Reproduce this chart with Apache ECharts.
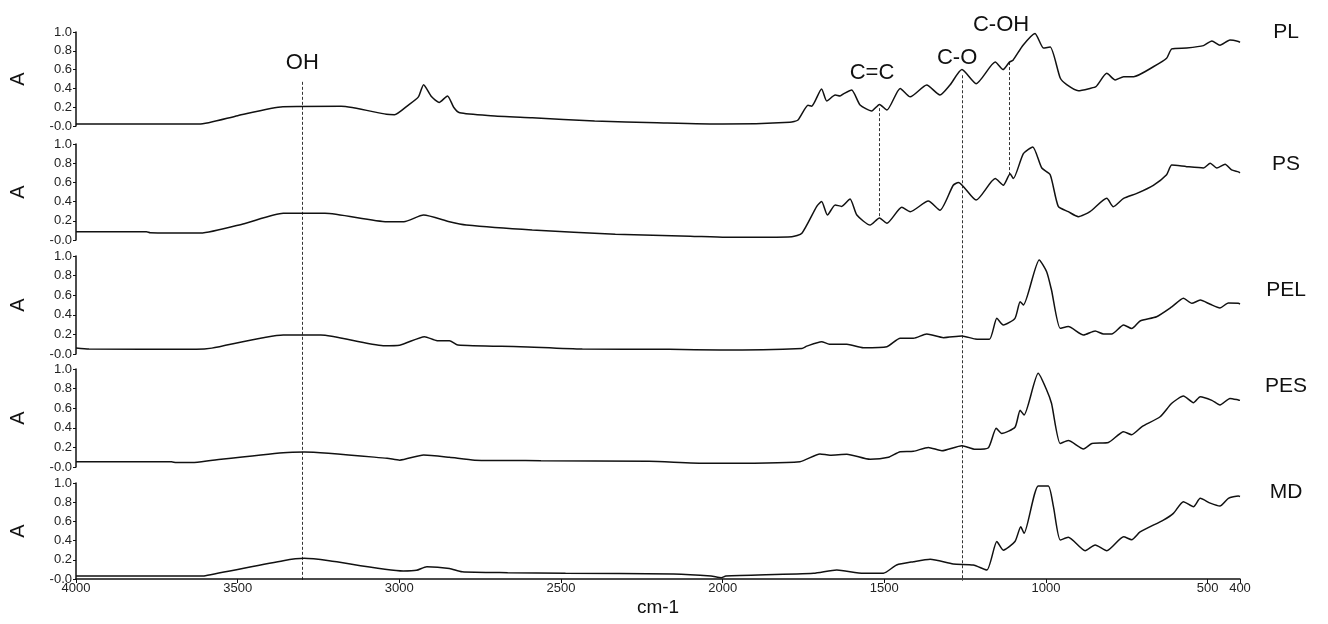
<!DOCTYPE html>
<html>
<head>
<meta charset="utf-8">
<script src="https://cdn.jsdelivr.net/npm/echarts@6/dist/echarts.min.js"></script>
<style>
html, body { margin: 0; background: #fff; }
#main { width: 1328px; height: 624px; }
</style>
</head>
<body>
<div id="main"></div>
<script>
// spectra, [wavenumber cm-1, absorbance]
var PL = [[4000,0.02],[3620,0.02],[3500,0.11],[3360,0.205],[3180,0.21],[3040,0.124],[3015,0.12],[2973,0.22],[2941,0.31],[2925,0.44],[2900,0.31],[2877,0.25],[2851,0.32],[2832,0.2],[2813,0.14],
  [2717,0.11],[2589,0.088],[2396,0.053],[2203,0.035],[2000,0.02],[1792,0.04],[1767,0.064],[1736,0.22],[1725,0.21],[1694,0.394],[1678,0.266],[1652,0.33],[1637,0.32],[1625,0.345],[1601,0.383],
  [1575,0.223],[1539,0.16],[1515,0.23],[1492,0.17],[1451,0.40],[1420,0.31],[1369,0.436],[1328,0.33],[1297,0.436],[1260,0.60],[1216,0.45],[1157,0.68],[1133,0.60],[1113,0.68],[1102,0.70],
  [1071,0.86],[1034,0.985],[1008,0.83],[987,0.84],[956,0.51],[936,0.44],[900,0.375],[864,0.40],[845,0.42],[812,0.56],[786,0.49],[760,0.525],[729,0.525],[668,0.63],[627,0.72],[611,0.82],
  [565,0.83],[513,0.855],[487,0.905],[462,0.86],[431,0.915],[405,0.90],[400,0.89]];
var PS = [[4000,0.086],[3782,0.086],[3770,0.075],[3615,0.072],[3480,0.17],[3359,0.278],[3230,0.278],[3038,0.19],[2986,0.19],[2925,0.26],[2845,0.19],[2793,0.156],[2589,0.104],[2332,0.06],
  [2100,0.04],[1990,0.028],[1786,0.035],[1755,0.07],[1709,0.35],[1694,0.40],[1676,0.26],[1652,0.365],[1632,0.35],[1606,0.427],[1585,0.26],[1544,0.156],[1515,0.23],[1492,0.174],[1446,0.34],
  [1420,0.295],[1364,0.406],[1328,0.31],[1287,0.57],[1271,0.60],[1216,0.416],[1157,0.64],[1132,0.57],[1111,0.69],[1101,0.64],[1070,0.90],[1041,0.97],[1013,0.75],[987,0.68],[962,0.35],
  [931,0.295],[900,0.243],[864,0.295],[812,0.434],[792,0.347],[760,0.434],[719,0.486],[668,0.57],[627,0.68],[611,0.78],[565,0.764],[513,0.75],[492,0.80],[472,0.75],[446,0.79],[426,0.73],
  [405,0.71],[400,0.70]];
var PEL = [[4000,0.06],[3960,0.05],[3628,0.048],[3580,0.06],[3359,0.194],[3243,0.194],[3050,0.085],[2999,0.09],[2922,0.177],[2883,0.136],[2845,0.136],[2819,0.092],[2626,0.075],[2434,0.05],
  [2165,0.048],[2008,0.04],[1755,0.057],[1740,0.08],[1694,0.126],[1670,0.10],[1616,0.10],[1565,0.065],[1492,0.075],[1451,0.16],[1410,0.16],[1369,0.204],[1317,0.167],[1260,0.184],[1219,0.153],
  [1175,0.15],[1152,0.364],[1132,0.296],[1096,0.364],[1080,0.534],[1070,0.50],[1021,0.96],[998,0.84],[983,0.653],[956,0.262],[931,0.28],[884,0.194],[848,0.235],[822,0.204],[797,0.204],
  [760,0.296],[735,0.26],[709,0.337],[658,0.38],[611,0.48],[575,0.568],[549,0.517],[523,0.55],[492,0.507],[462,0.47],[436,0.52],[405,0.517],[400,0.51]];
var PES = [[4000,0.054],[3705,0.054],[3690,0.045],[3640,0.045],[3577,0.07],[3359,0.146],[3294,0.153],[3038,0.089],[2999,0.07],[2925,0.122],[2845,0.099],[2767,0.07],[2562,0.065],[2228,0.058],
  [2049,0.037],[1761,0.054],[1699,0.133],[1668,0.12],[1616,0.13],[1544,0.078],[1487,0.099],[1451,0.156],[1410,0.16],[1364,0.20],[1322,0.166],[1260,0.217],[1219,0.18],[1178,0.197],[1154,0.395],
  [1137,0.343],[1096,0.405],[1080,0.58],[1068,0.53],[1024,0.956],[998,0.786],[983,0.65],[956,0.24],[931,0.27],[884,0.184],[858,0.24],[807,0.25],[760,0.36],[735,0.33],[704,0.41],[647,0.513],
  [611,0.65],[575,0.724],[544,0.656],[523,0.717],[487,0.68],[462,0.633],[431,0.70],[405,0.684],[400,0.68]];
var MD = [[4000,0.031],[3628,0.031],[3600,0.035],[3359,0.19],[3294,0.215],[3217,0.19],[2988,0.083],[2947,0.09],[2915,0.128],[2845,0.11],[2806,0.076],[2665,0.066],[2486,0.059],[2152,0.052],
  [2036,0.031],[2004,0.014],[1990,0.031],[1719,0.059],[1647,0.094],[1565,0.059],[1503,0.06],[1462,0.146],[1410,0.18],[1358,0.205],[1287,0.156],[1225,0.146],[1183,0.094],[1152,0.39],[1132,0.30],
  [1096,0.39],[1078,0.545],[1068,0.476],[1024,0.97],[993,0.97],[977,0.753],[956,0.406],[931,0.434],[879,0.295],[848,0.354],[812,0.295],[760,0.44],[735,0.41],[709,0.49],[637,0.614],[606,0.684],
  [575,0.805],[544,0.753],[523,0.84],[492,0.79],[462,0.76],[436,0.84],[405,0.865],[400,0.86]];

var seriesData = [PL, PS, PEL, PES, MD];
var sampleNames = ['PL', 'PS', 'PEL', 'PES', 'MD'];
var sampleLabelY = [1.0, 0.79, 0.65, 0.82, 0.906];   // label height, in the panel's own A units
var xTicks = [4000, 3500, 3000, 2500, 2000, 1500, 1000, 500, 400];

// band markers: label, wavenumber, dashed line [panel, A] -> [panel, A], label [wn, A in top panel]
var bandNames = ['OH', 'C=C', 'C-O', 'C-OH'];
var bandWn = [3300, 1516, 1260, 1113];
var bandFrom = [[0, 0.47], [0, 0.19], [0, 0.54], [0, 0.68]];
var bandTo = [[4, -0.02], [1, 0.243], [4, -0.02], [1, 0.66]];
var bandLabelAt = [[3300, 0.67], [1538, 0.564], [1275, 0.72], [1139, 1.07]];

var FONT = "'Liberation Sans', Arial, sans-serif";
var gridTop = [32, 144, 256, 369, 483];
var gridHeight = [94, 96, 98, 98, 96];

var grids = [], xAxes = [], yAxes = [], series = [];
for (var k = 0; k < 5; k++) {
	grids.push({ left: 76, right: 88, top: gridTop[k], height: gridHeight[k], outerBoundsMode: 'none' });
	var xa = { gridIndex: k, type: 'value', min: 400, max: 4000, inverse: true, show: false, splitLine: { show: false } };
	if (k == 4) {
		xa = {
			gridIndex: k, type: 'value', min: 400, max: 4000, inverse: true,
			name: 'cm-1', nameLocation: 'middle', nameGap: 19,
			nameTextStyle: { fontFamily: FONT, fontSize: 19, color: '#111' },
			axisLine: { show: true, lineStyle: { color: '#111', width: 1.5 } },
			axisTick: { show: true, length: 4, customValues: xTicks, lineStyle: { color: '#111' } },
			axisLabel: {
				customValues: xTicks, fontFamily: FONT, fontSize: 13, color: '#222', margin: 3,
				formatter: function (v) { return String(v); }
			},
			splitLine: { show: false }
		};
	}
	xAxes.push(xa);
	yAxes.push({
		gridIndex: k, type: 'value', min: 0, max: 1, interval: 0.2,
		name: 'A', nameLocation: 'middle', nameGap: 48, nameRotate: 90,
		nameTextStyle: { fontFamily: FONT, fontSize: 20, color: '#111' },
		axisLine: { show: true, lineStyle: { color: '#111', width: 1.5 } },
		axisTick: { show: true, length: 3, lineStyle: { color: '#111' } },
		axisLabel: {
			fontFamily: FONT, fontSize: 13, color: '#222', margin: 4,
			formatter: function (v) { return v === 0 ? '-0.0' : v.toFixed(1); }
		},
		splitLine: { show: false }
	});
	series.push({
		name: sampleNames[k], type: 'line', xAxisIndex: k, yAxisIndex: k,
		data: seriesData[k], showSymbol: false, smooth: 0.2,
		lineStyle: { color: '#111', width: 1.5 }
	});
}

var option = {
	animation: false,
	backgroundColor: '#fff',
	grid: grids,
	xAxis: xAxes,
	yAxis: yAxes,
	series: series
};

var chart = echarts.init(document.getElementById('main'));
chart.setOption(option);

// dashed band lines and text labels, placed through the panels' scales
var graphics = [];
for (var i = 0; i < bandNames.length; i++) {
	var p1 = chart.convertToPixel({ gridIndex: bandFrom[i][0] }, [bandWn[i], bandFrom[i][1]]);
	var p2 = chart.convertToPixel({ gridIndex: bandTo[i][0] }, [bandWn[i], bandTo[i][1]]);
	var lx = Math.round(p1[0]) + 0.5;
	graphics.push({
		type: 'line', silent: true,
		shape: { x1: lx, y1: p1[1], x2: lx, y2: p2[1] },
		style: { stroke: '#333', lineWidth: 1, lineDash: [3, 2] }
	});
	var pt = chart.convertToPixel({ gridIndex: 0 }, bandLabelAt[i]);
	graphics.push({
		type: 'text', silent: true, x: pt[0], y: pt[1],
		style: { text: bandNames[i], font: '22px ' + FONT, fill: '#111', align: 'center', verticalAlign: 'middle' }
	});
}
for (var k = 0; k < 5; k++) {
	var ps = chart.convertToPixel({ gridIndex: k }, [400, sampleLabelY[k]]);
	graphics.push({
		type: 'text', silent: true, x: ps[0] + 46, y: ps[1],
		style: { text: sampleNames[k], font: '21px ' + FONT, fill: '#111', align: 'center', verticalAlign: 'middle' }
	});
}
chart.setOption({ graphic: graphics });
</script>
</body>
</html>
